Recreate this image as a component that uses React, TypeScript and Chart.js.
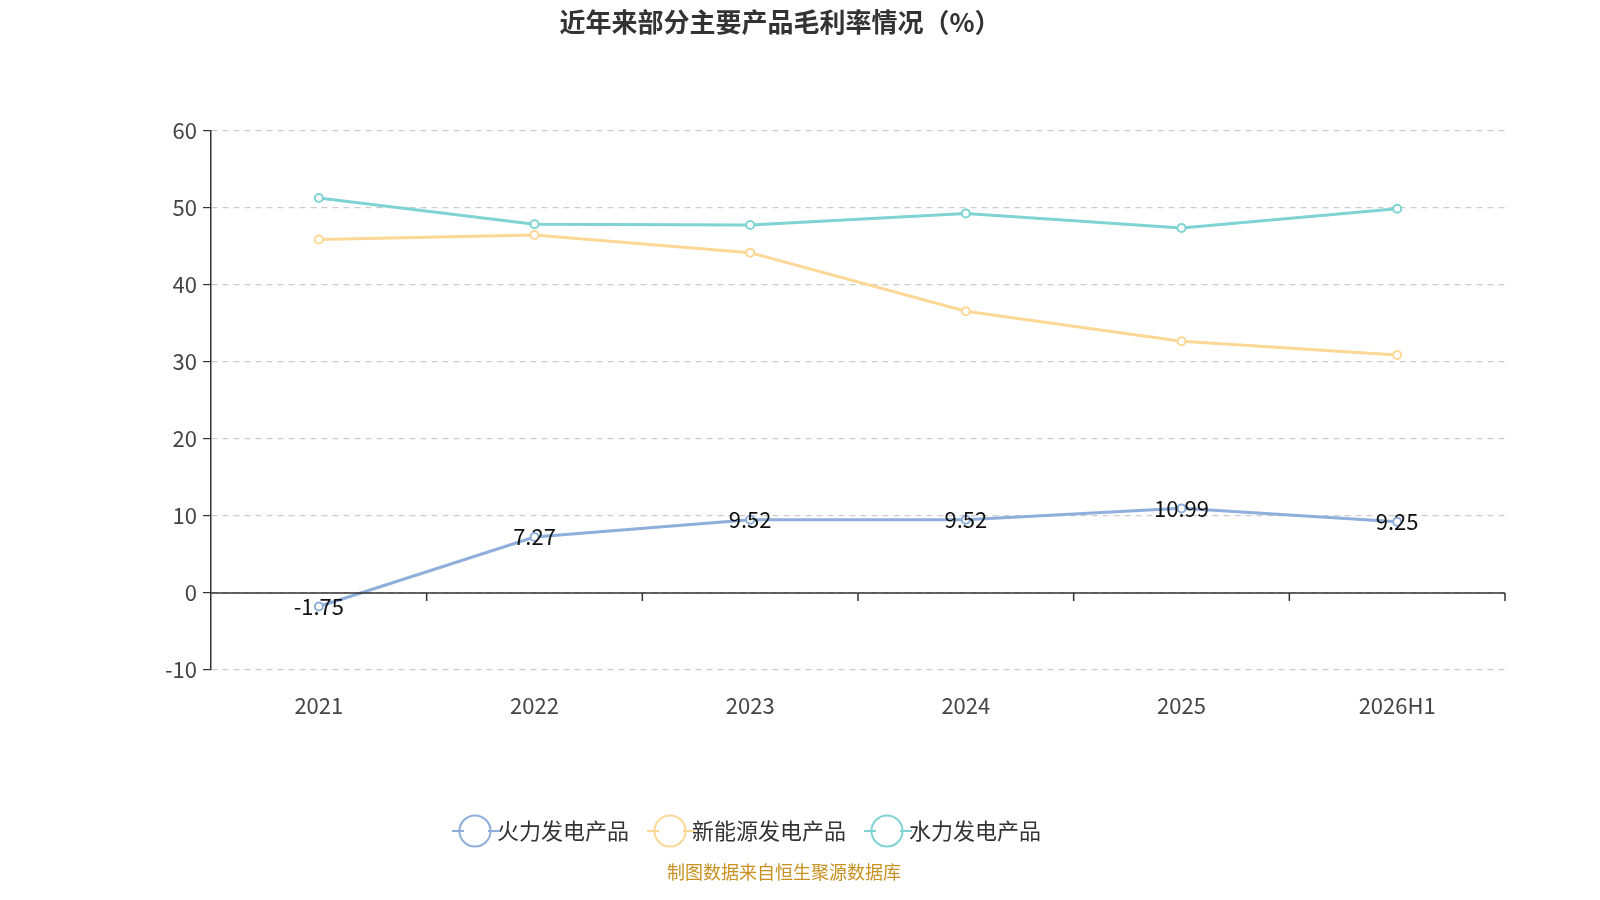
import React, { useEffect, useRef } from "react";
import { Chart, registerables } from "chart.js";
Chart.register(...registerables);

const categories = ["2021", "2022", "2023", "2024", "2025", "2026H1"];
const thermal = [-1.75, 7.27, 9.52, 9.52, 10.99, 9.25];
const newEnergy = [45.9, 46.5, 44.2, 36.6, 32.7, 30.9];
const hydro = [51.3, 47.9, 47.8, 49.3, 47.4, 49.9];
const seriesNames = ["火力发电产品", "新能源发电产品", "水力发电产品"];
const colors = ["#8eaedc", "#fdd795", "#7fd3d2"];
const titleText = "近年来部分主要产品毛利率情况（%）";
const sourceText = "制图数据来自恒生聚源数据库";
const FONT = "'Noto Sans CJK SC', 'Noto Sans', sans-serif";

export default function App() {
  const ref = useRef<HTMLCanvasElement>(null);
  useEffect(() => {
    const extras = {
      id: "extras",
      afterDatasetsDraw(chart: any) {
        const ctx = chart.ctx;
        const xs = chart.scales.x, ys = chart.scales.y;
        const y0 = ys.getPixelForValue(0);
        ctx.save();
        ctx.strokeStyle = "#333";
        ctx.lineWidth = 1.5;
        ctx.beginPath();
        ctx.moveTo(chart.chartArea.left, y0);
        ctx.lineTo(chart.chartArea.right, y0);
        const step = (chart.chartArea.right - chart.chartArea.left) / categories.length;
        for (let i = 1; i <= categories.length; i++) {
          const x = chart.chartArea.left + i * step;
          ctx.moveTo(x, y0); ctx.lineTo(x, y0 + 8);
        }
        ctx.stroke();
        ctx.restore();
      },
      afterDraw(chart: any) {
        const ctx = chart.ctx;
        ctx.save();
        ctx.fillStyle = "#333";
        ctx.font = `bold 26px ${FONT}`;
        ctx.textAlign = "center";
        ctx.textBaseline = "middle";
        ctx.fillText(titleText, 780, 22);
        ctx.fillStyle = "#c8901e";
        ctx.font = `18px ${FONT}`;
        ctx.fillText(sourceText, 784, 872);
        const meta = chart.getDatasetMeta(0);
        ctx.fillStyle = "#111";
        ctx.font = `22px ${FONT}`;
        meta.data.forEach((p: any, i: number) => {
          ctx.fillText(String(thermal[i]), p.x, p.y);
        });
        const boxes = chart.legend.legendHitBoxes || [];
        boxes.forEach((b: any, i: number) => {
          const cx = b.left + 12;
          const cy = b.top + b.height / 2;
          ctx.strokeStyle = colors[i];
          ctx.lineWidth = 2;
          ctx.beginPath();
          ctx.moveTo(cx - 24, cy); ctx.lineTo(cx - 12, cy);
          ctx.moveTo(cx + 12, cy); ctx.lineTo(cx + 24, cy);
          ctx.stroke();
        });
        ctx.restore();
      },
    };
    const mk = (label: string, data: number[], c: string) => ({
      label, data, borderColor: c, backgroundColor: "#fff",
      borderWidth: 3, pointRadius: 4, pointBorderWidth: 2,
      pointBackgroundColor: "#fff", pointBorderColor: c, tension: 0,
    });
    const chart = new Chart(ref.current!, {
      type: "line",
      data: {
        labels: categories,
        datasets: [
          mk(seriesNames[0], thermal, colors[0]),
          mk(seriesNames[1], newEnergy, colors[1]),
          mk(seriesNames[2], hydro, colors[2]),
        ],
      },
      options: {
        animation: false,
        responsive: false,
        devicePixelRatio: 1,
        layout: { padding: { top: 131, bottom: 48, left: 0, right: 95 } },
        plugins: {
          title: { display: false },
          tooltip: { enabled: false },
          legend: {
            position: "bottom",
            labels: {
              usePointStyle: true, pointStyle: "circle", boxWidth: 24, boxHeight: 24,
              padding: 30, color: "#333", font: { family: FONT, size: 22 },
            },
          },
        },
        scales: {
          x: {
            offset: true,
            grid: { display: false },
            border: { display: false },
            ticks: { color: "#444", font: { family: FONT, size: 22 }, padding: 14 },
            afterFit: (s: any) => { s.height = 120; },
          } as any,
          y: {
            min: -10, max: 60,
            ticks: { stepSize: 10, color: "#444", font: { family: FONT, size: 22 }, padding: 6 },
            grid: { color: "#ccc", lineWidth: 1.2, tickColor: "#333", tickLength: 8, drawTicks: true },
            border: { dash: [6, 5], color: "#333", width: 1.5 },
            afterFit: (s: any) => { s.width = 211; },
          } as any,
        },
      },
      plugins: [extras],
    });
    return () => chart.destroy();
  }, []);
  return (
    <div style={{ position: "fixed", left: 0, top: 0, width: 1600, height: 900, background: "#fff" }}>
      <canvas ref={ref} width={1600} height={900} style={{ width: 1600, height: 900, display: "block" }} />
    </div>
  );
}
